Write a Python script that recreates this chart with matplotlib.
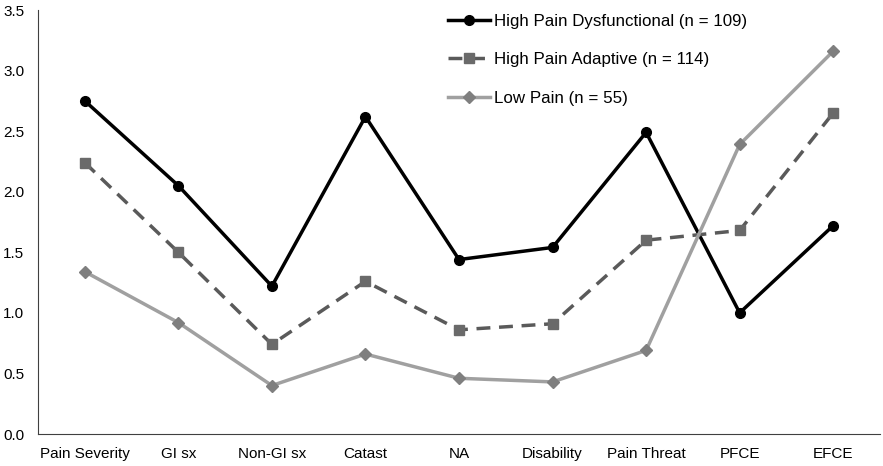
import matplotlib.pyplot as plt

plt.rcParams['font.family'] = ['Liberation Sans', 'DejaVu Sans']

categories = ['Pain Severity', 'GI sx', 'Non-GI sx', 'Catast', 'NA',
              'Disability', 'Pain Threat', 'PFCE', 'EFCE']
dysfunctional = [2.75, 2.05, 1.22, 2.62, 1.44, 1.54, 2.49, 1.00, 1.72]
adaptive = [2.24, 1.50, 0.74, 1.26, 0.86, 0.91, 1.60, 1.68, 2.65]
low_pain = [1.34, 0.92, 0.40, 0.66, 0.46, 0.43, 0.69, 2.39, 3.16]
y_ticks = [0.0, 0.5, 1.0, 1.5, 2.0, 2.5, 3.0, 3.5]

fig = plt.figure(figsize=(8.83, 4.66), dpi=100)
ax = fig.add_axes([38 / 883, 32 / 466, 842 / 883, 424 / 466])

x = range(len(categories))
ax.plot(x, dysfunctional, color='black', lw=2.5, marker='o', ms=7,
        label='High Pain Dysfunctional (n = 109)')
ax.plot(x, adaptive, color='#5a5a5a', lw=2.5, ls=(0, (4, 2.5)), marker='s', ms=6.5,
        mfc='#6a6a6a', mec='#6a6a6a', label='High Pain Adaptive (n = 114)')
ax.plot(x, low_pain, color='#a0a0a0', lw=2.5, marker='D', ms=6,
        mfc='#7f7f7f', mec='#7f7f7f', label='Low Pain (n = 55)')

ax.set_xlim(-0.5, len(categories) - 0.5)
ax.set_ylim(0, 3.5)
ax.set_xticks(list(x))
ax.set_xticklabels(categories, fontsize=11)
ax.set_yticks(y_ticks)
ax.set_yticklabels([f'{v:.1f}' for v in y_ticks], fontsize=11)
ax.tick_params(length=0)
ax.tick_params(axis='x', pad=9.5)
ax.tick_params(axis='y', pad=10)
for s in ['top', 'right']:
    ax.spines[s].set_visible(False)
ax.spines['left'].set_color('#404040')
ax.spines['bottom'].set_color('#404040')

ax.legend(loc='upper left', bbox_to_anchor=(0.487, 0.991), frameon=False,
          borderpad=0, borderaxespad=0,
          fontsize=12.2, labelspacing=1.38, handlelength=2.5, handletextpad=0.2)

fig.savefig('out.png', dpi=100)
